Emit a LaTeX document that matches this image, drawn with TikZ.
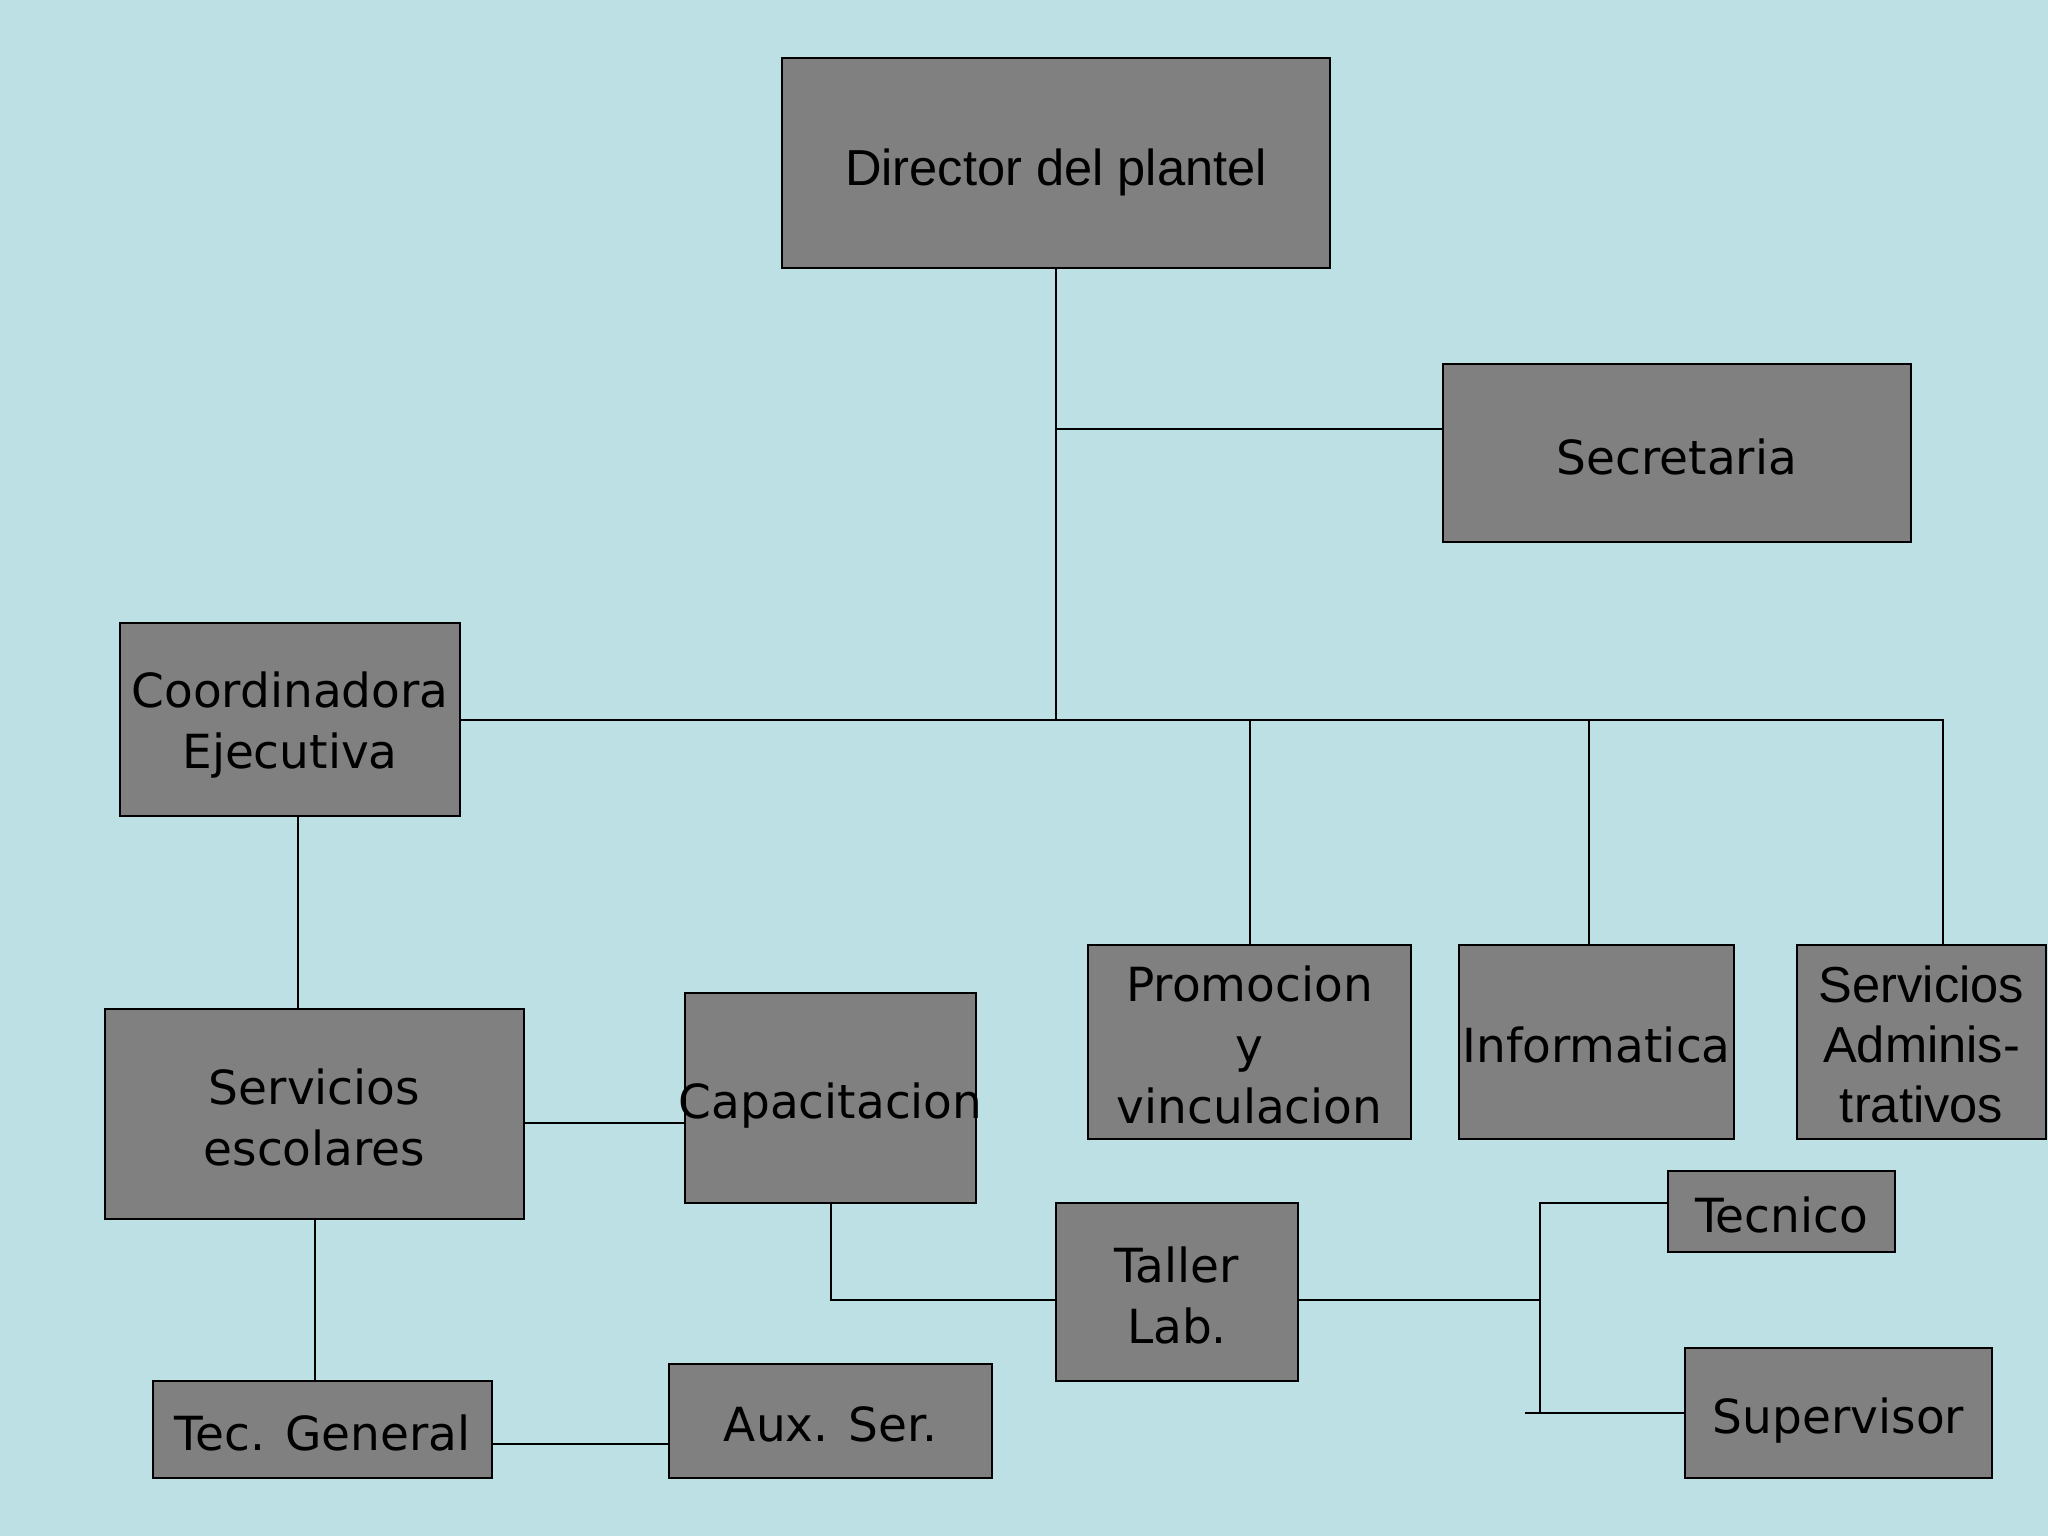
\documentclass[tikz,border=0pt]{standalone}
\usepackage{fontspec}
\setmainfont{DejaVu Sans}
\newfontfamily\arialf{Liberation Sans}
\newfontfamily\comicf{DejaVu Sans}
\definecolor{bg}{HTML}{BDE0E4}
\definecolor{boxgray}{HTML}{808080}
\begin{document}
\begin{tikzpicture}[x=0.5pt,y=-0.5pt,
  box/.style={draw=black, line width=1.2pt, fill=boxgray, inner sep=0pt, outer sep=0pt},
  lbl/.style={inner sep=0pt, align=center, yshift=-1.5pt, font=\comicf\fontsize{23.5}{30.5}\selectfont},
  albl/.style={inner sep=0pt, align=center, yshift=-1pt, font=\arialf\fontsize{25.3}{30}\selectfont},
  conn/.style={draw=black, line width=1pt}]
\useasboundingbox[fill=bg] (0,0) rectangle (2048,1536);

% boxes
\node[box, minimum width=274pt, minimum height=105pt] (dir) at (1056,163) {};
\node[box, minimum width=234pt, minimum height=89pt] (sec) at (1677,453) {};
\node[box, minimum width=170pt, minimum height=96.5pt] (coord) at (290,719.5) {};
\node[box, minimum width=209.5pt, minimum height=105pt] (serv) at (314.5,1114) {};
\node[box, minimum width=145.5pt, minimum height=105pt] (cap) at (830.5,1098) {};
\node[box, minimum width=169.5pt, minimum height=48.5pt] (tg) at (322.5,1429.5) {};
\node[box, minimum width=161.5pt, minimum height=57pt] (aux) at (830.5,1421) {};
\node[box, minimum width=121pt, minimum height=89pt] (taller) at (1177,1292) {};
\node[box, minimum width=113.5pt, minimum height=40.5pt] (tecn) at (1781.5,1211.5) {};
\node[box, minimum width=153.5pt, minimum height=65pt] (sup) at (1838.5,1413) {};
\node[box, minimum width=161.5pt, minimum height=97pt] (prom) at (1249.5,1042) {};
\node[box, minimum width=137.5pt, minimum height=97pt] (info) at (1596.5,1042) {};
\node[box, minimum width=124.5pt, minimum height=97pt] (sadm) at (1921.5,1042) {};

% texts
\node[albl, yshift=-3.5pt] (dirt) at (dir.center) {Director del plantel};
\node[lbl, yshift=-0.5pt] (sect) at (sec.center) {Secretaria};
\node[lbl, yshift=-1.5pt] (coordt) at (coord.center) {Coordinadora\\Ejecutiva};
\node[lbl] (servt) at (serv.center) {Servicios\\escolares};
\node[lbl, yshift=-2.5pt] (capt) at (cap.center) {Capacitacion};
\node[lbl] (tgt) at (tg.center) {Tec. General};
\node[lbl] (auxt) at (aux.center) {Aux. Ser.};
\node[lbl] (tallert) at (taller.center) {Taller\\Lab.};
\node[lbl] (tecnt) at (tecn.center) {Tecnico};
\node[lbl, yshift=-2.5pt] (supt) at (sup.center) {Supervisor};
\node[lbl] (promt) at (prom.center) {Promocion\\y\\vinculacion};
\node[lbl] (infot) at (info.center) {Informatica};
\node[albl] (sadmt) at (sadm.center) {Servicios\\Adminis-\\trativos};

% helper coordinates
\coordinate (ysec) at (0,429);
\coordinate (jmain) at (1056,719);
\coordinate (xinfo) at (1589,0);
\coordinate (xsadm) at (1943,0);
\coordinate (xcs) at (298,0);
\coordinate (ysc) at (0,1122.7);
\coordinate (yta) at (0,1444);
\coordinate (ytl) at (0,1300);
\coordinate (xsp) at (1540,0);
\coordinate (ytec) at (0,1203);
\coordinate (xsup) at (1525,0);

% connectors
\draw[conn] (dir.south) -- (jmain);
\draw[conn] (dir.south |- ysec) -- (sec.west |- ysec);
\draw[conn] (coord.east) -- (xsadm |- coord.east) -- (xsadm |- sadm.north);
\draw[conn] (prom.north |- coord.east) -- (prom.north);
\draw[conn] (xinfo |- coord.east) -- (xinfo |- info.north);
\draw[conn] (xcs |- coord.south) -- (xcs |- serv.north);
\draw[conn] (serv.east |- ysc) -- (cap.west |- ysc);
\draw[conn] (serv.south) -- (serv.south |- tg.north);
\draw[conn] (tg.east |- yta) -- (aux.west |- yta);
\draw[conn] (cap.south) -- (cap.south |- ytl) -- (taller.west |- ytl);
\draw[conn] (taller.east |- ytl) -- (xsp |- ytl);
\draw[conn] (tecn.west |- ytec) -- (xsp |- ytec) -- (xsp |- sup.west);
\draw[conn] (xsup |- sup.west) -- (sup.west);
\end{tikzpicture}
\end{document}
